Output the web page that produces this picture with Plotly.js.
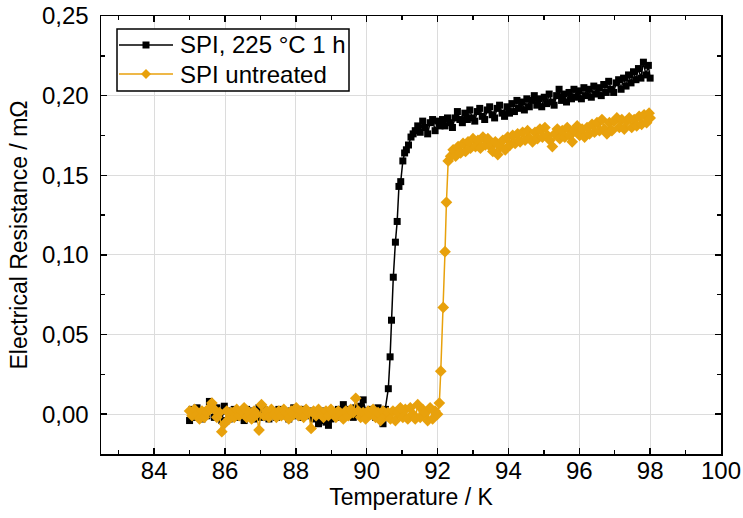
<!DOCTYPE html>
<html>
<head>
<meta charset="utf-8">
<script src="https://cdn.plot.ly/plotly-3.0.1.min.js"></script>
<style>html,body{margin:0;padding:0;background:#fff}#chart{width:743px;height:518px}</style>
</head>
<body>
<div id="chart"></div>
<script>
// Series: SPI, 225 °C 1 h (black squares)
const treatedName = "SPI, 225 °C 1 h";
const treatedT = [
85.00,85.07,85.14,85.21,85.28,85.35,85.42,85.49,85.56,85.63,
85.70,85.77,85.84,85.91,85.98,86.05,86.12,86.19,86.26,86.33,
86.40,86.47,86.54,86.61,86.68,86.75,86.82,86.89,86.96,87.03,
87.10,87.17,87.24,87.31,87.38,87.45,87.52,87.59,87.66,87.73,
87.80,87.87,87.94,88.01,88.08,88.15,88.22,88.29,88.36,88.43,
88.50,88.57,88.64,88.71,88.78,88.85,88.92,88.99,89.06,89.13,
89.20,89.27,89.34,89.41,89.48,89.55,89.62,89.69,89.76,89.83,
89.90,89.97,90.04,90.11,90.18,90.25,90.32,90.39,90.46,90.53,
90.61,90.66,90.70,90.75,90.81,90.86,90.91,90.96,91.02,91.07,91.12,91.18,91.25,91.31,91.37,
91.44,91.51,91.58,91.65,91.72,91.79,91.86,91.93,92.00,92.07,
92.14,92.21,92.28,92.35,92.42,92.49,92.56,92.63,92.70,92.77,
92.84,92.91,92.98,93.05,93.12,93.19,93.26,93.33,93.40,93.47,
93.54,93.61,93.68,93.75,93.82,93.89,93.96,94.03,94.10,94.17,
94.24,94.31,94.38,94.45,94.52,94.59,94.66,94.73,94.80,94.87,
94.94,95.01,95.08,95.15,95.22,95.29,95.36,95.43,95.50,95.57,
95.64,95.71,95.78,95.85,95.92,95.99,96.06,96.13,96.20,96.27,
96.34,96.41,96.48,96.55,96.62,96.69,96.76,96.83,96.90,96.97,
97.04,97.11,97.18,97.25,97.32,97.39,97.46,97.53,97.60,97.67,
97.74,97.81,97.88,97.95,98.00
];
const treatedR = [
-0.004,0.003,-0.002,0.004,0.001,-0.003,0.002,-0.001,0.008,0.003,
-0.002,0.004,0.001,-0.004,0.005,0.002,-0.003,0.001,0.003,-0.002,
0.000,0.002,-0.004,0.003,-0.001,0.002,-0.003,0.001,0.004,-0.002,
0.003,0.000,-0.003,0.002,0.001,-0.002,0.003,-0.001,0.002,0.000,
-0.003,0.002,0.004,-0.001,0.001,-0.002,0.003,0.000,-0.001,0.002,
-0.003,0.001,-0.006,-0.004,0.002,-0.005,-0.007,-0.003,0.001,-0.002,
0.003,0.000,0.006,-0.001,0.003,0.001,-0.002,0.004,0.000,0.005,
0.009,0.002,-0.001,0.003,0.000,-0.002,0.004,0.001,-0.006,0.003,
0.016,0.036,0.059,0.086,0.108,0.121,0.143,0.146,0.159,0.164,0.166,0.169,0.174,0.176,0.178,
0.181,0.177,0.184,0.180,0.176,0.183,0.185,0.178,0.184,0.181,
0.185,0.181,0.186,0.183,0.180,0.186,0.190,0.185,0.183,0.189,
0.185,0.191,0.186,0.184,0.190,0.192,0.187,0.185,0.191,0.193,
0.188,0.186,0.192,0.194,0.189,0.187,0.193,0.189,0.195,0.190,
0.197,0.192,0.196,0.191,0.198,0.193,0.197,0.200,0.194,0.198,
0.193,0.199,0.195,0.201,0.196,0.194,0.200,0.204,0.197,0.201,
0.196,0.202,0.198,0.204,0.199,0.203,0.198,0.205,0.200,0.204,
0.199,0.206,0.201,0.205,0.200,0.207,0.202,0.209,0.204,0.202,
0.208,0.210,0.204,0.211,0.206,0.213,0.208,0.215,0.210,0.217,
0.211,0.221,0.213,0.219,0.211
];

// Series: SPI untreated (orange diamonds)
const untreatedName = "SPI untreated";
const untreatedT = [
85.00,85.07,85.14,85.21,85.28,85.35,85.42,85.49,85.56,85.63,
85.70,85.77,85.84,85.91,85.98,86.05,86.12,86.19,86.26,86.33,
86.40,86.47,86.54,86.61,86.68,86.75,86.82,86.89,86.96,87.03,
87.10,87.17,87.24,87.31,87.38,87.45,87.52,87.59,87.66,87.73,
87.80,87.87,87.94,88.01,88.08,88.15,88.22,88.29,88.36,88.43,
88.50,88.57,88.64,88.71,88.78,88.85,88.92,88.99,89.06,89.13,
89.20,89.27,89.34,89.41,89.48,89.55,89.62,89.69,89.76,89.83,
89.90,89.97,90.04,90.11,90.18,90.25,90.32,90.39,90.46,90.53,
90.60,90.67,90.74,90.81,90.88,90.95,91.02,91.09,91.16,91.23,
91.30,91.37,91.44,91.51,91.58,91.65,91.72,91.79,91.86,91.93,
92.00,
92.05,92.09,92.16,92.21,92.25,92.30,
92.37,92.44,92.51,92.58,92.65,92.72,92.79,92.86,92.93,93.00,
93.07,93.14,93.21,93.28,93.35,93.42,93.49,93.56,93.63,93.70,
93.77,93.84,93.91,93.98,94.05,94.12,94.19,94.26,94.33,94.40,
94.47,94.54,94.61,94.68,94.75,94.82,94.89,94.96,95.03,95.10,
95.17,95.24,95.31,95.38,95.45,95.52,95.59,95.66,95.73,95.80,
95.87,95.94,96.01,96.08,96.15,96.22,96.29,96.36,96.43,96.50,
96.57,96.64,96.71,96.78,96.85,96.92,96.99,97.06,97.13,97.20,
97.27,97.34,97.41,97.48,97.55,97.62,97.69,97.76,97.83,97.90,
97.97,98.00
];
const untreatedR = [
0.002,-0.001,0.003,0.000,-0.003,0.002,-0.002,0.001,0.004,0.007,
0.003,-0.002,0.001,-0.011,-0.006,0.002,-0.003,0.001,-0.002,0.003,
-0.001,0.002,0.004,-0.002,0.001,-0.003,0.002,0.000,-0.010,0.006,
-0.001,0.002,-0.002,0.003,0.000,-0.002,0.002,-0.001,0.003,0.001,
-0.003,0.002,0.000,0.004,-0.001,0.002,-0.002,0.003,0.001,-0.009,
0.002,-0.001,0.003,0.000,-0.002,0.002,-0.001,0.003,0.001,-0.002,
0.002,0.000,-0.003,0.002,-0.001,0.003,0.001,0.010,0.002,-0.002,
0.001,-0.003,0.002,0.000,0.003,-0.002,0.001,-0.004,0.002,-0.001,
0.001,-0.003,0.002,-0.004,0.001,0.004,-0.002,0.003,-0.003,0.004,
0.000,-0.003,0.006,-0.002,0.003,0.001,-0.004,0.004,-0.003,0.002,
0.000,
0.007,0.027,0.067,0.102,0.133,0.159,
0.162,0.166,0.162,0.168,0.164,0.170,0.165,0.171,0.167,0.173,
0.168,0.172,0.167,0.174,0.169,0.173,0.168,0.165,0.171,0.163,
0.168,0.172,0.166,0.174,0.169,0.175,0.170,0.176,0.171,0.177,
0.172,0.178,0.173,0.171,0.177,0.173,0.179,0.174,0.180,0.175,
0.172,0.168,0.176,0.179,0.173,0.178,0.174,0.180,0.175,0.171,
0.178,0.181,0.175,0.179,0.174,0.180,0.176,0.182,0.177,0.183,
0.178,0.185,0.179,0.176,0.183,0.178,0.184,0.186,0.180,0.185,
0.179,0.184,0.186,0.180,0.185,0.181,0.187,0.182,0.188,0.183,
0.189,0.186
];

const xTickVals = [84, 86, 88, 90, 92, 94, 96, 98, 100];
const yTickVals = [0.00, 0.05, 0.10, 0.15, 0.20, 0.25];
const xTitle = "Temperature / K";
const yTitle = "Electrical Resistance / mΩ";

const BLACK = "#000000";
const ORANGE = "#E8A10C";
const FONT = "Liberation Sans, Arial, sans-serif";

// pixel -> paper helpers for the hand-drawn legend
const L = 101, R = 22, T = 16, B = 64, W = 743, H = 518;
const pw = W - L - R, ph = H - T - B;
const px = v => (v - L) / pw;
const py = v => (H - B - v) / ph;

const traces = [
  {x: treatedT, y: treatedR, name: treatedName, type: "scatter", mode: "lines+markers",
   line: {color: BLACK, width: 1.5},
   marker: {symbol: "square", size: 7, color: BLACK}, showlegend: false},
  {x: untreatedT, y: untreatedR, name: untreatedName, type: "scatter", mode: "lines+markers",
   line: {color: ORANGE, width: 1.5},
   marker: {symbol: "diamond", size: 9, color: ORANGE}, showlegend: false}
];

const axisCommon = {
  showline: true, linecolor: "#000", linewidth: 1.5, mirror: "allticks",
  ticks: "inside", ticklen: 6, tickwidth: 1.5, tickcolor: "#000",
  showgrid: true, gridcolor: "#dcdcdc", gridwidth: 1, zeroline: false,
  tickfont: {family: FONT, size: 24, color: "#000"}
};

const layout = {
  width: W, height: H,
  margin: {l: L, r: R, t: T, b: B},
  paper_bgcolor: "#fff", plot_bgcolor: "#fff",
  separators: ", ",
  showlegend: false,
  font: {family: FONT, color: "#000"},
  xaxis: Object.assign({}, axisCommon, {
    range: [82.5, 100], tickvals: xTickVals, ticktext: xTickVals.map(String),
    minor: {dtick: 1, tick0: 0, ticks: "inside", ticklen: 4, tickwidth: 1.5, tickcolor: "#000", showgrid: false},
    ticklabelstandoff: -5,
    title: {text: xTitle, font: {family: FONT, size: 23}, standoff: 3}
  }),
  yaxis: Object.assign({}, axisCommon, {
    range: [-0.025, 0.25], tickvals: yTickVals, tickformat: ".2f",
    minor: {dtick: 0.025, tick0: 0, ticks: "inside", ticklen: 4, tickwidth: 1.5, tickcolor: "#000", showgrid: false},
    ticklabelstandoff: 6,
    title: {text: yTitle, font: {family: FONT, size: 23}, standoff: 8}
  }),
  shapes: [
    {type: "rect", xref: "paper", yref: "paper", x0: px(117), x1: px(349), y0: py(91), y1: py(29),
     line: {color: "#000", width: 1.5}, fillcolor: "#fff", layer: "above"},
    {type: "line", xref: "paper", yref: "paper", x0: px(119), x1: px(173), y0: py(45), y1: py(45),
     line: {color: BLACK, width: 1.5}, layer: "above"},
    {type: "rect", xref: "paper", yref: "paper", xsizemode: "pixel", ysizemode: "pixel",
     xanchor: px(146), yanchor: py(45), x0: -3.5, x1: 3.5, y0: -3.5, y1: 3.5,
     fillcolor: BLACK, line: {width: 0}, layer: "above"},
    {type: "line", xref: "paper", yref: "paper", x0: px(119), x1: px(173), y0: py(74), y1: py(74),
     line: {color: ORANGE, width: 1.5}, layer: "above"},
    {type: "path", xref: "paper", yref: "paper", xsizemode: "pixel", ysizemode: "pixel",
     xanchor: px(146), yanchor: py(74), path: "M0,5 L5,0 L0,-5 L-5,0 Z",
     fillcolor: ORANGE, line: {width: 0}, layer: "above"}
  ],
  annotations: [
    {xref: "paper", yref: "paper", x: px(178), y: py(45), xanchor: "left", yanchor: "middle",
     text: treatedName, showarrow: false, font: {family: FONT, size: 24, color: "#000"}},
    {xref: "paper", yref: "paper", x: px(178), y: py(74), xanchor: "left", yanchor: "middle",
     text: untreatedName, showarrow: false, font: {family: FONT, size: 24, color: "#000"}}
  ]
};

Plotly.newPlot("chart", traces, layout, {displayModeBar: false, staticPlot: true});
</script>
</body>
</html>
